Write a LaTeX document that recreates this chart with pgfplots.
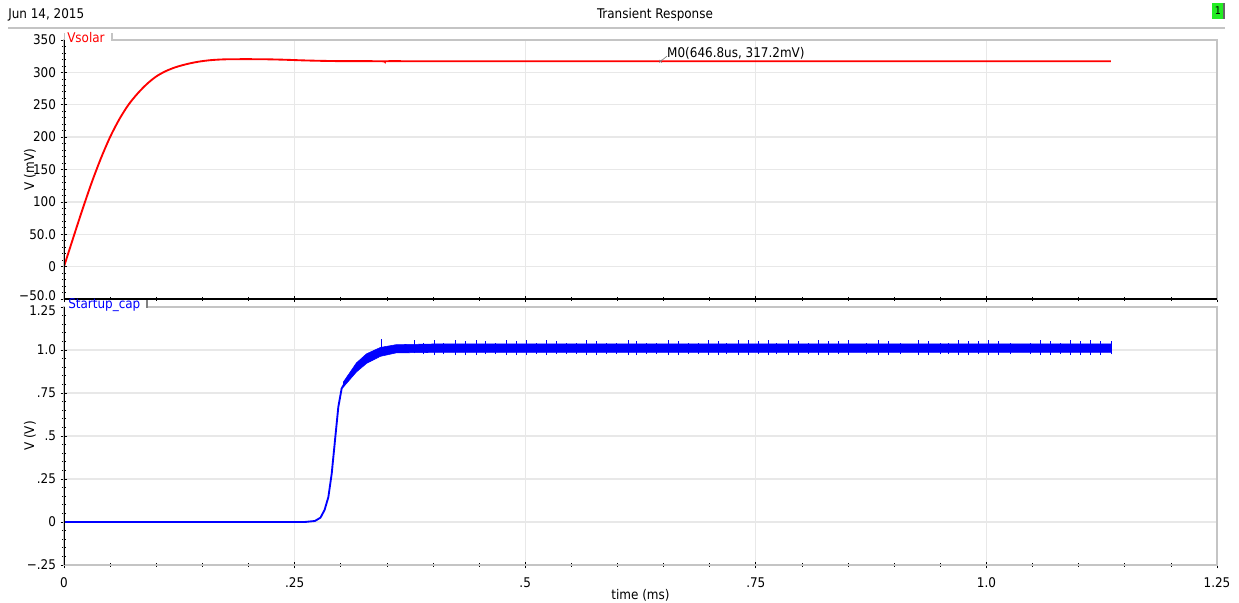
\documentclass[border=0pt]{standalone}
\usepackage{fontspec}
\setmainfont{DejaVu Sans Condensed}
\usepackage{pgfplots}
\pgfplotsset{compat=1.18}
\usepackage{pgfplotstable}

\definecolor{framec}{HTML}{C4C4C4}
\definecolor{gridc}{HTML}{E8E8E8}
\definecolor{plotred}{HTML}{FF0000}
\definecolor{plotblue}{HTML}{0000FF}
\definecolor{flag}{HTML}{22EE22}

% Vsolar (mV) against time (ms)
\pgfplotstableread{
t v
0 0
0.01 44.5
0.02 88.2
0.03 129.7
0.04 167.2
0.05 200.2
0.06 227.7
0.07 250.2
0.08 267.7
0.09 282.2
0.10 293.7
0.11 301.7
0.12 307.5
0.13 311.7
0.14 315
0.15 317.4
0.16 319
0.17 319.9
0.18 320.3
0.20 320.4
0.22 320.2
0.24 319.5
0.26 318.5
0.28 317.8
0.30 317.4
0.344 317.2
0.348 316.2
0.352 317.3
0.40 317.2
0.6468 317.2
1.135 317.2
}\vsolar

% Startup_cap (V): mean trace
\pgfplotstableread{
t v
0 0
0.261 0
0.272 0.006
0.278 0.025
0.2825 0.07
0.2866 0.145
0.2902 0.28
0.2938 0.475
0.2974 0.669
0.301 0.776
0.3082 0.843
0.3173 0.90
0.3281 0.95
0.3426 0.99
0.3643 1.008
0.40 1.01
1.1358 1.01
}\startup

% ripple band of Startup_cap: upper edge forward, lower edge back
\pgfplotstableread{
t v
0.303 0.815
0.317 0.925
0.328 0.978
0.343 1.015
0.36 1.031
0.40 1.035
1.1358 1.035
1.1358 0.986
0.40 0.986
0.36 0.983
0.343 0.963
0.328 0.922
0.317 0.872
0.303 0.785
}\ripple

% switching spikes: time, centre, extent up, extent down
\pgfplotstableread{
t m p n
0.3437 1.01 0.055 0.035
0.3798 1.01 0.05 0.03
0.3895 1.01 0.03 0.035
0.4015 1.01 0.05 0.04
0.4112 1.01 0.03 0.035
0.4239 1.01 0.05 0.04
0.4355 1.01 0.045 0.04
0.4467 1.01 0.05 0.04
0.4564 1.01 0.045 0.035
0.4673 1.01 0.03 0.035
0.4800 1.01 0.05 0.04
0.4908 1.01 0.045 0.04
0.5016 1.01 0.05 0.04
0.5125 1.01 0.03 0.035
0.5233 1.01 0.05 0.04
0.5341 1.01 0.045 0.035
0.5450 1.01 0.03 0.035
0.5558 1.01 0.03 0.035
0.5667 1.01 0.05 0.04
0.5775 1.01 0.045 0.04
0.5883 1.01 0.03 0.035
0.5992 1.01 0.03 0.035
0.6118 1.01 0.05 0.04
0.6209 1.01 0.045 0.04
0.6317 1.01 0.03 0.035
0.6425 1.01 0.03 0.035
0.6551 1.01 0.05 0.04
0.6660 1.01 0.045 0.04
0.6768 1.01 0.03 0.035
0.6877 1.01 0.03 0.035
0.6985 1.01 0.05 0.04
0.7093 1.01 0.045 0.04
0.7184 1.01 0.03 0.035
0.7310 1.01 0.05 0.04
0.7419 1.01 0.05 0.04
0.7527 1.01 0.045 0.035
0.7636 1.01 0.05 0.04
0.7726 1.01 0.03 0.035
0.7852 1.01 0.05 0.04
0.7961 1.01 0.045 0.04
0.8069 1.01 0.03 0.035
0.8178 1.01 0.05 0.04
0.8286 1.01 0.045 0.04
0.8395 1.01 0.045 0.035
0.8503 1.01 0.05 0.04
0.8702 1.01 0.03 0.035
0.8828 1.01 0.05 0.04
0.8937 1.01 0.045 0.04
0.9063 1.01 0.03 0.035
0.9262 1.01 0.05 0.04
0.9371 1.01 0.045 0.04
0.9497 1.01 0.03 0.035
0.9587 1.01 0.03 0.035
0.9695 1.01 0.05 0.04
0.9804 1.01 0.045 0.04
0.9912 1.01 0.045 0.035
1.0021 1.01 0.05 0.04
1.0129 1.01 0.045 0.04
1.0256 1.01 0.03 0.035
1.0473 1.01 0.03 0.035
1.0581 1.01 0.05 0.04
1.0690 1.01 0.045 0.04
1.0798 1.01 0.03 0.035
1.0906 1.01 0.05 0.04
1.1015 1.01 0.045 0.04
1.1123 1.01 0.05 0.04
1.1232 1.01 0.045 0.04
1.1355 1.01 0.045 0.035
}\spikes

\pgfplotsset{
  panel/.style={
    scale only axis, width=864.75pt,
    xmin=0, xmax=1.25, xtick={0,0.25,0.5,0.75,1,1.25},
    minor x tick num=4, minor y tick num=4,
    tick pos=left, tick align=center,
    major tick length=5pt, minor tick length=2.5pt,
    tick style={black, line width=0.5pt},
    grid=major, grid style={gridc, line width=1pt},
    axis line style={framec, line width=1.2pt},
    tick label style={font=\fontsize{10}{12}\selectfont},
    every axis y label/.style={at={(rel axis cs:0,0.5)}, xshift=-25.5pt, rotate=90, anchor=center},
  }
}

\begin{document}
\begin{tikzpicture}
\path[use as bounding box] (0,0) rectangle (929.25pt,-452.25pt);

% upper panel: Vsolar
\begin{axis}[panel, at={(48pt,-224.25pt)}, anchor=south west, height=194.25pt,
  ymin=-50, ymax=350, ytick={-50,0,50,100,150,200,250,300,350},
  yticklabels={\raisebox{-1.4pt}[0pt][0pt]{−50.0},0,50.0,100,150,200,250,300,350},
  xticklabels={}, ylabel={V (mV)}]
\addplot[plotred, line width=1.4pt, smooth] table[x=t, y=v] {\vsolar};
\addplot[gray, only marks, mark=x, mark size=1.5pt] coordinates {(0.6468,317.2)};
\draw[gray, line width=0.5pt] (axis cs:0.6468,317.2) -- (axis cs:0.6537,325);
\node[anchor=west, inner sep=0pt] at (axis cs:0.6537,330) {M0(646.8us, 317.2mV)};
\draw[black, line width=1.1pt] (rel axis cs:0,0) -- (rel axis cs:1,0);
\draw[black, line width=1pt] (rel axis cs:0,0) -- (rel axis cs:0,1);
\end{axis}

% lower panel: Startup_cap
\begin{axis}[panel, at={(48pt,-423.75pt)}, anchor=south west, height=193.5pt,
  ymin=-0.25, ymax=1.25, ytick={-0.25,0,0.25,0.5,0.75,1,1.25},
  yticklabels={−.25,0,.25,.5,.75,1.0,\raisebox{-6.25pt}[0pt][0pt]{1.25}},
  xticklabels={0,.25,.5,.75,1.0,1.25},
  xticklabel style={anchor=center, yshift=-10.5pt},
  ylabel={V (V)}, xlabel={time (ms)},
  every axis x label/.style={at={(rel axis cs:0.5,0)}, anchor=center, yshift=-22.5pt}]
\addplot[fill=plotblue, draw=plotblue, line width=0.4pt] table[x=t, y=v] {\ripple} -- cycle;
\addplot[plotblue, line width=1.4pt] table[x=t, y=v] {\startup};
\addplot[plotblue, line width=0.7pt, quiver={u=0, v=\thisrow{p}+\thisrow{n}}]
  table[x=t, y expr=\thisrow{m}-\thisrow{n}] {\spikes};
\draw[black, line width=1pt] (rel axis cs:0,0) -- (rel axis cs:0,1);
\end{axis}

% header, trace tabs and page flag
\begin{scope}[x=0.75pt, y=-0.75pt]
\fill[white] (65.2,32) rectangle (111.4,41);
\node[anchor=west, inner sep=0pt, text=plotred] at (67,38) {Vsolar};
\draw[framec, line width=1pt] (112,33) -- (112,40.5);
\draw[framec, line width=1pt] (64.6,33) -- (64.6,40);
\fill[white] (65.2,300.2) rectangle (146.4,308.5);
\node[anchor=west, inner sep=0pt, text=plotblue] at (68,305) {Startup\_cap};
\draw[gray, line width=1pt] (147,300) -- (147,307.5);
\draw[framec, line width=2pt] (8,28) -- (1225,28);
\node[anchor=west, inner sep=0pt] at (8,15) {Jun 14, 2015};
\node[inner sep=0pt] at (655,15) {Transient Response};
\fill[flag] (1212,3) rectangle (1224,19);
\draw[black!60, line width=0.8pt] (1224,3) -- (1224,19);
\node[inner sep=0pt] at (1218,11) {\fontsize{8}{8}\selectfont 1};
\end{scope}
\end{tikzpicture}
\end{document}
